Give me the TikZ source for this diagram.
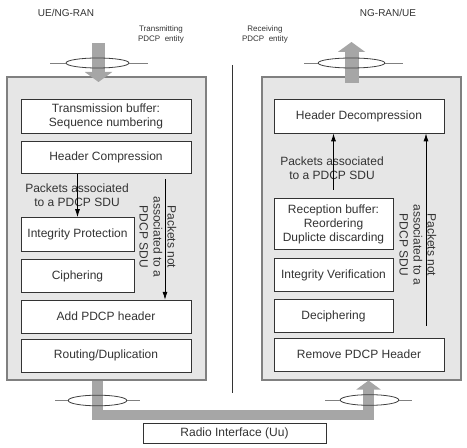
\documentclass[tikz,border=0pt]{standalone}
\usepackage{fontspec}
\setmainfont{Liberation Sans}
\usepackage{tikz}
\usetikzlibrary{positioning, arrows.meta}

\definecolor{boxgray}{HTML}{E6E6E6}
\definecolor{framegray}{HTML}{808080}
\definecolor{flowgray}{HTML}{A6A6A6}
\definecolor{inkgray}{HTML}{333333}

\begin{document}
\begin{tikzpicture}[
        x=0.75pt, y=-0.75pt,          % 1 unita = 1 pixel, asse y verso il basso
        font=\fontsize{9}{10.5}\selectfont,
        entity/.style={               % Riquadro grigio di ogni entita PDCP
            draw=framegray,
            fill=boxgray,
            line width=0.8pt,
            minimum width=149.25pt,
            minimum height=227.25pt,
            inner sep=0pt
        },
        block/.style={                % Blocco funzionale bianco
            draw=inkgray,
            fill=white,
            line width=0.6pt,
            minimum width=127.5pt,
            minimum height=24.75pt,
            inner sep=1pt,
            align=center,
            text=inkgray
        },
        shortblock/.style={block, minimum width=84.75pt},
        rxblock/.style={block, minimum width=89.25pt},
        pkt/.style={-{Latex[length=6pt,width=3.75pt]}, line width=0.6pt, draw=black},
        flow/.style={draw=flowgray, line join=miter},
        ring/.style={draw=black!75, line width=0.6pt},
        divider/.style={draw=framegray, line width=0.6pt},
        tag/.style={text=inkgray, align=center, font=\fontsize{6}{7.5}\selectfont}
    ]

    \useasboundingbox (0,0) rectangle (467,448);

    % --- Entita PDCP ---
    \node[entity] (txent) at (106.5,228.5) {};
    \node[entity] (rxent) at (361.5,228.5) {};

    % --- Lato trasmissione ---
    \node[block, minimum height=25.5pt] (tbuf) at (106,116) {Transmission buffer:\\Sequence numbering};
    \node[block, minimum height=24pt] (hcomp) [below=6pt of tbuf] {Header Compression};
    \node[shortblock, minimum height=25.5pt] (intp) [below=32.25pt of hcomp.south west, anchor=north west] {Integrity Protection};
    \node[shortblock] (ciph) [below=5.25pt of intp] {Ciphering};
    \node[block] (addh) [below=5.25pt of ciph.south west, anchor=north west] {Add PDCP header};
    \node[block] (rout) [below=3.75pt of addh] {Routing/Duplication};

    % --- Lato ricezione ---
    \node[block, minimum height=25.5pt] (hdec) at (359,116) {Header Decompression};
    \node[rxblock, minimum height=38.25pt] (rbuf) [below=48.75pt of hdec.south west, anchor=north west] {Reception buffer:\\Reordering\\Duplicte discarding};
    \node[rxblock] (intv) [below=6pt of rbuf] {Integrity Verification};
    \node[rxblock] (deci) [below=5.25pt of intv] {Deciphering};
    \node[block] (remh) [below=3.75pt of deci.south west, anchor=north west] {Remove PDCP Header};

    % --- Interfaccia radio ---
    \node[block, minimum width=137.25pt, minimum height=15pt] (uu) at (234.5,433) {Radio Interface (Uu)};

    % --- Etichette ---
    \node[tag, font=\fontsize{7.5}{9}\selectfont] (txside) at (66,13) {UE/NG-RAN};
    \node[tag, font=\fontsize{7.5}{9}\selectfont] (rxside) at (388,13) {NG-RAN/UE};
    \node[tag] (txname) at (161,34) {Transmitting\\PDCP\ \ entity};
    \node[tag] (rxname) at (265,34) {Receiving\\PDCP\ \ entity};

    \node[align=center, text=inkgray] (txsdu) at (77,195) {Packets associated\\to a PDCP SDU};
    \node[align=center, text=inkgray, rotate=-90] (txnsdu) at (158,237) {Packets not\\associated to a\\PDCP SDU};
    \node[align=center, text=inkgray] (rxsdu) at (332,168) {Packets associated\\to a PDCP SDU};
    \node[align=center, text=inkgray, rotate=-90] (rxnsdu) at (418,245) {Packets not\\associated to a\\PDCP SDU};

    % --- Percorsi dei pacchetti ---
    \coordinate (txsplit) at (165,179);
    \coordinate (rxjoin) at (333.5,190);
    \coordinate (rxsplit) at (426,326);

    \draw[pkt] (hcomp.south -| intp.north) -- (intp.north);
    \draw[pkt] (txsplit) -- (txsplit |- addh.north);
    \draw[pkt] (rxjoin) -- (rxjoin |- hdec.south);
    \draw[pkt] (rxsplit) -- (rxsplit |- hdec.south);

    % --- Frecce grigie di flusso ---
    \coordinate (txin) at (98.5,43);
    \coordinate (txtip) at (98.5,82);
    \coordinate (rxtop) at (351.5,83);
    \coordinate (rxtip) at (351.5,42);
    \coordinate (uuleft) at (97.5,415);
    \coordinate (uuright) at (368.5,415);

    \draw[flow, line width=9.75pt, -{Triangle[length=7.5pt,width=20.25pt]}] (txin) -- (txtip);
    \draw[flow, line width=10.5pt, -{Triangle[length=7.5pt,width=20.25pt]}] (rxtop) -- (rxtip);
    \draw[flow, line width=8pt, -{Triangle[length=6.75pt,width=18pt]}]
        (uuleft |- txent.south) -- (uuleft) -- (uuright) -- (uuright |- rxent.south);

    % --- Anelli (punti di accesso) ---
    \draw[ring] (97.5,63) ellipse [x radius=23.6pt, y radius=3.75pt];
    \draw[divider] (50,63) -- (66,63) (129,63) -- (148,63);
    \draw[ring] (351.5,63) ellipse [x radius=25pt, y radius=3.75pt];
    \draw[divider] (304,63) -- (318,63) (385,63) -- (403,63);
    \draw[ring] (97.5,400.5) ellipse [x radius=22pt, y radius=4pt];
    \draw[divider] (55,400.5) -- (68,400.5) (127,400.5) -- (140,400.5);
    \draw[ring] (369.5,400) ellipse [x radius=22pt, y radius=4pt];
    \draw[divider] (325,400) -- (340,400) (399,400) -- (412,400);

    % --- Separatore centrale ---
    \draw[draw=black!80, line width=0.6pt] (232.5,65) -- (232.5,393);

\end{tikzpicture}
\end{document}
